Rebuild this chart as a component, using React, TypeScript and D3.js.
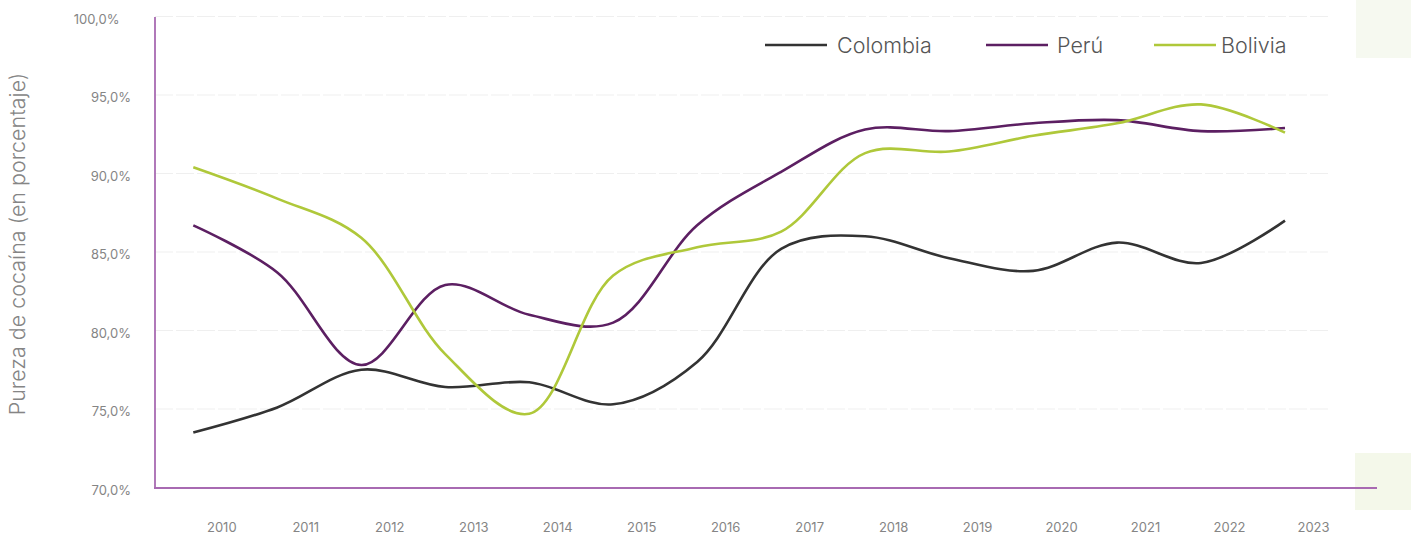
import * as d3 from "d3";

const years = [
  "2010", "2011", "2012", "2013", "2014", "2015", "2016",
  "2017", "2018", "2019", "2020", "2021", "2022", "2023",
];
const colombia = [73.5, 75.1, 77.5, 76.4, 76.7, 75.3, 78.0, 85.2, 86.0, 84.6, 83.8, 85.6, 84.3, 87.0];
const peru = [86.7, 83.7, 77.8, 82.9, 81.0, 80.5, 86.7, 90.1, 92.8, 92.7, 93.2, 93.4, 92.7, 92.9];
const bolivia = [90.4, 88.4, 85.9, 78.5, 74.7, 83.5, 85.3, 86.3, 91.3, 91.4, 92.4, 93.2, 94.4, 92.6];
const yTicks = [70, 75, 80, 85, 90, 95, 100];

const series = [
  { name: "Colombia", values: colombia, color: "#333333", lineX: 765, textX: 837 },
  { name: "Perú", values: peru, color: "#5c1f62", lineX: 986, textX: 1057 },
  { name: "Bolivia", values: bolivia, color: "#afc83a", lineX: 1154, textX: 1221 },
];

const W = 1416;
const H = 535;
const font = "Inter, 'Noto Sans', sans-serif";
const axisColor = "#a86ab2";

const App = () => {
  const x = d3.scalePoint<string>().domain(years).range([193.3, 1285]);
  const y = d3.scaleLinear().domain([70, 100]).range([487.5, 16.5]);
  const fmt = (v: number) => v.toFixed(1).replace(".", ",") + "%";

  const line = d3
    .line<number>()
    .x((_, i) => x(years[i]) ?? 0)
    .y((d) => y(d))
    .curve(d3.curveCatmullRom);

  return (
    <svg
      width={W}
      height={H}
      style={{ position: "absolute", left: 0, top: 0, background: "#fff" }}
      fontFamily={font}
    >
      {/* decorative light green blocks on the right */}
      <rect x={1356} y={0} width={55} height={58} fill="#f6f9f0" />
      <rect x={1355} y={453} width={56} height={57} fill="#f4f8ea" />

      {/* gridlines */}
      {yTicks
        .filter((t) => t > 70)
        .map((t) => (
          <line
            key={t}
            x1={155}
            x2={1328}
            y1={y(t)}
            y2={y(t)}
            stroke="#efefef"
            strokeWidth={1}
            strokeDasharray="18 3"
          />
        ))}

      {/* y tick labels */}
      {yTicks.map((t) => (
        <text
          key={t}
          x={t === 100 ? 119.5 : 131}
          y={y(t) + 7}
          textAnchor="end"
          fontSize={13}
          fill="#858585"
        >
          {fmt(t)}
        </text>
      ))}

      {/* x tick labels, shifted right of the data points */}
      {years.map((yr) => (
        <text
          key={yr}
          x={(x(yr) ?? 0) + 28.5}
          y={532}
          textAnchor="middle"
          fontSize={13}
          fill="#858585"
        >
          {yr}
        </text>
      ))}

      {/* axis title */}
      <text
        transform="translate(25,244) rotate(-90)"
        textAnchor="middle"
        fontSize={21.5}
        fontWeight={300}
        fill="#858585"
      >
        Pureza de cocaína (en porcentaje)
      </text>

      {/* axis lines */}
      <line x1={155} x2={155} y1={17} y2={488} stroke={axisColor} strokeWidth={1.8} />
      <line x1={154} x2={1377} y1={488} y2={488} stroke={axisColor} strokeWidth={1.8} />

      {/* series */}
      {series.map((s) => (
        <path
          key={s.name}
          d={line(s.values) ?? ""}
          fill="none"
          stroke={s.color}
          strokeWidth={2.6}
        />
      ))}

      {/* legend */}
      {series.map((s) => (
        <g key={s.name}>
          <line
            x1={s.lineX}
            x2={s.lineX + 62}
            y1={45}
            y2={45}
            stroke={s.color}
            strokeWidth={2.6}
          />
          <text x={s.textX} y={52.5} fontSize={21.5} fontWeight={300} fill="#555">
            {s.name}
          </text>
        </g>
      ))}
    </svg>
  );
};

export default App;
